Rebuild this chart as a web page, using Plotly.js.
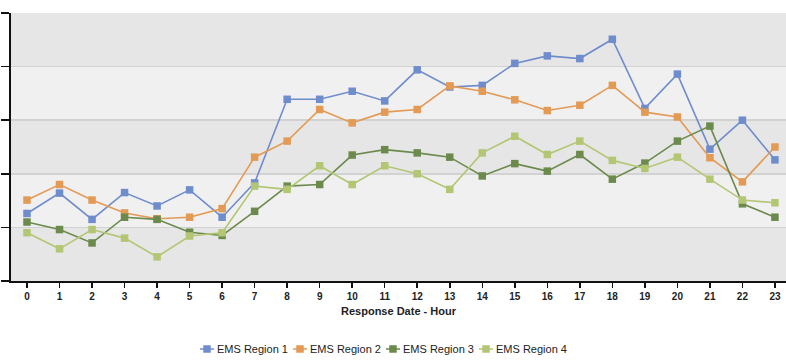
<!DOCTYPE html>
<html>
<head>
<meta charset="utf-8">
<script src="https://cdn.plot.ly/plotly-3.0.1.min.js"></script>
<style>
  html, body { margin: 0; padding: 0; background: #ffffff; }
  #chart { width: 786px; height: 360px; }
</style>
</head>
<body>
<div id="chart"></div>
<script>
// Hour of day (response date - hour)
const hours = [0, 1, 2, 3, 4, 5, 6, 7, 8, 9, 10, 11, 12, 13, 14, 15, 16, 17, 18, 19, 20, 21, 22, 23];

// Average response values per hour for each EMS region
const region1 = [1.26, 1.64, 1.15, 1.65, 1.40, 1.70, 1.19, 1.83, 3.39, 3.39, 3.54, 3.36,
                 3.94, 3.62, 3.65, 4.06, 4.20, 4.15, 4.51, 3.22, 3.86, 2.46, 3.00, 2.26];
const region2 = [1.51, 1.80, 1.51, 1.27, 1.16, 1.19, 1.35, 2.31, 2.61, 3.20, 2.95, 3.15,
                 3.20, 3.64, 3.54, 3.38, 3.18, 3.28, 3.65, 3.15, 3.06, 2.30, 1.85, 2.50];
const region3 = [1.10, 0.96, 0.71, 1.19, 1.15, 0.91, 0.85, 1.30, 1.77, 1.80, 2.35, 2.45,
                 2.39, 2.31, 1.96, 2.19, 2.05, 2.36, 1.90, 2.20, 2.61, 2.89, 1.44, 1.19];
const region4 = [0.90, 0.60, 0.96, 0.80, 0.45, 0.84, 0.90, 1.77, 1.71, 2.15, 1.80, 2.15,
                 2.00, 1.71, 2.39, 2.70, 2.36, 2.61, 2.25, 2.10, 2.31, 1.90, 1.51, 1.46];

const seriesNames = ['EMS Region 1', 'EMS Region 2', 'EMS Region 3', 'EMS Region 4'];
const seriesValues = [region1, region2, region3, region4];
const seriesColors = ['#6f8ccc', '#e39a55', '#6b8a4c', '#b3c674'];

// Horizontal grid levels of the value axis
const gridLevels = [0, 1, 2, 3, 4, 5];

const traces = seriesValues.map((vals, i) => ({
  type: 'scatter',
  mode: 'lines+markers',
  name: seriesNames[i],
  x: hours,
  y: vals,
  line: { color: seriesColors[i], width: 1.6 },
  marker: { color: seriesColors[i], size: 7.5, symbol: 'square' }
}));

// Alternating light bands between grid levels
const bands = [];
for (let k = 0; k < gridLevels.length - 1; k++) {
  if (k % 2 === 1) {
    bands.push({
      type: 'rect', xref: 'paper', yref: 'y', layer: 'below',
      x0: 0, x1: 1, y0: gridLevels[k], y1: gridLevels[k + 1],
      fillcolor: '#f0f0f0', line: { width: 0 }
    });
  }
}

const layout = {
  width: 786,
  height: 360,
  margin: { l: 11, r: 0, t: 13, b: 79 },
  paper_bgcolor: '#ffffff',
  plot_bgcolor: '#e6e6e6',
  showlegend: true,
  font: { family: 'Liberation Sans, Arial, sans-serif', color: '#222222' },
  shapes: bands,
  xaxis: {
    range: [-0.492, 23.34],
    tickmode: 'array',
    tickvals: hours,
    ticktext: hours.map(h => '<b>' + h + '</b>'),
    tickfont: { size: 10, color: '#222222' },
    ticks: 'outside',
    ticklen: 5,
    tickwidth: 1.5,
    tickcolor: '#111111',
    showline: true,
    linecolor: '#111111',
    linewidth: 2,
    showgrid: false,
    zeroline: false,
    fixedrange: true,
    title: {
      text: '<b>Response Date - Hour</b>',
      font: { size: 11, color: '#222222' },
      standoff: 6
    }
  },
  yaxis: {
    range: [0, 5],
    tickmode: 'array',
    tickvals: gridLevels,
    showticklabels: false,
    ticks: 'outside',
    ticklen: 8,
    tickwidth: 1.5,
    tickcolor: '#111111',
    showline: true,
    linecolor: '#111111',
    linewidth: 2,
    showgrid: true,
    gridcolor: '#d2d2d2',
    gridwidth: 1.5,
    zeroline: false,
    fixedrange: true
  },
  legend: {
    orientation: 'h',
    xref: 'container',
    yref: 'container',
    x: 195 / 786,
    xanchor: 'left',
    y: 1 - 349 / 360,
    yanchor: 'middle',
    font: { size: 11, color: '#222222' },
    itemwidth: 30,
    entrywidth: 48,
    entrywidthmode: 'pixels',
    tracegroupgap: 0,
    bgcolor: 'rgba(0,0,0,0)'
  }
};

// Compact legend keys: a short line with the marker, text right after it
function compactLegend(gd) {
  gd.querySelectorAll('.legend .traces').forEach(item => {
    item.querySelectorAll('.legendlines path').forEach(p => p.setAttribute('d', 'M5,0h14'));
    item.querySelectorAll('.legendsymbols .legendpoints path').forEach(p => {
      p.setAttribute('transform', 'translate(12,0)');
    });
    const txt = item.querySelector('text.legendtext');
    if (txt) txt.setAttribute('x', '22');
  });
}

const gd = document.getElementById('chart');
Plotly.newPlot(gd, traces, layout, { displayModeBar: false, staticPlot: true })
  .then(() => compactLegend(gd));
</script>
</body>
</html>
